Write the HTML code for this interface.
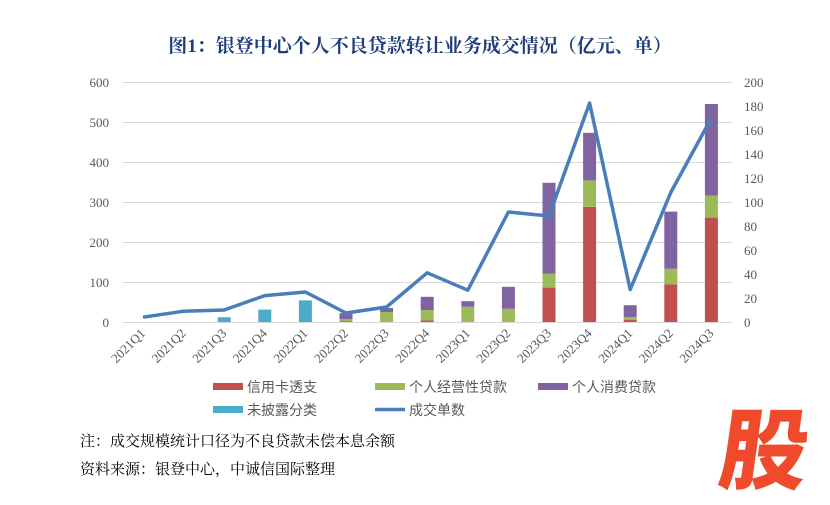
<!DOCTYPE html>
<html><head><meta charset="utf-8"><style>
body{margin:0;background:#fff;}
svg text{font-family:"Liberation Serif","Noto Serif CJK SC",serif;}
</style></head><body>
<svg width="830" height="500" xmlns="http://www.w3.org/2000/svg">
<rect width="830" height="500" fill="#fff"/>
<text x="420" y="52" text-anchor="middle" font-size="19" font-weight="bold" fill="#1f3e79" style="font-family:'Liberation Serif','Noto Serif CJK SC',serif">图1：银登中心个人不良贷款转让业务成交情况（亿元、单）</text>
<g stroke="#d9d9d9" stroke-width="1">
<line x1="123" x2="732" y1="82.5" y2="82.5"/><line x1="123" x2="732" y1="122.5" y2="122.5"/>
<line x1="123" x2="732" y1="162.5" y2="162.5"/><line x1="123" x2="732" y1="202.5" y2="202.5"/>
<line x1="123" x2="732" y1="242.5" y2="242.5"/><line x1="123" x2="732" y1="282.5" y2="282.5"/>
<line x1="123" x2="732" y1="322.5" y2="322.5"/>
</g>
<g font-size="13" fill="#595959" text-anchor="end">
<text x="109" y="87">600</text><text x="109" y="127">500</text><text x="109" y="167">400</text>
<text x="109" y="207">300</text><text x="109" y="247">200</text><text x="109" y="287">100</text><text x="109" y="327">0</text>
</g>
<g font-size="13" fill="#595959" text-anchor="start">
<text x="744" y="87">200</text><text x="744" y="111">180</text><text x="744" y="135">160</text>
<text x="744" y="159">140</text><text x="744" y="183">120</text><text x="744" y="207">100</text>
<text x="744" y="231">80</text><text x="744" y="255">60</text><text x="744" y="279">40</text>
<text x="744" y="303">20</text><text x="744" y="327">0</text>
</g>
<g>
<rect x="217.7" y="317.2" width="13" height="4.8" fill="#4bacc6"/>
<rect x="258.3" y="309.6" width="13" height="12.4" fill="#4bacc6"/>
<rect x="298.9" y="300.4" width="13" height="21.6" fill="#4bacc6"/>

<rect x="339.5" y="321.2" width="13" height="0.8" fill="#c0504d"/>
<rect x="339.5" y="319.2" width="13" height="2" fill="#9bbb59"/>
<rect x="339.5" y="313.2" width="13" height="6" fill="#8064a2"/>

<rect x="380.1" y="312" width="13" height="10" fill="#9bbb59"/>
<rect x="380.1" y="308" width="13" height="4" fill="#8064a2"/>

<rect x="420.7" y="320.4" width="13" height="1.6" fill="#c0504d"/>
<rect x="420.7" y="310" width="13" height="10.4" fill="#9bbb59"/>
<rect x="420.7" y="296.8" width="13" height="13.2" fill="#8064a2"/>

<rect x="461.3" y="306.8" width="13" height="15.2" fill="#9bbb59"/>
<rect x="461.3" y="301.2" width="13" height="5.6" fill="#8064a2"/>

<rect x="501.9" y="308.8" width="13" height="13.2" fill="#9bbb59"/>
<rect x="501.9" y="286.8" width="13" height="22" fill="#8064a2"/>

<rect x="542.5" y="287.6" width="13" height="34.4" fill="#c0504d"/>
<rect x="542.5" y="273.6" width="13" height="14" fill="#9bbb59"/>
<rect x="542.5" y="182.8" width="13" height="90.8" fill="#8064a2"/>

<rect x="583.1" y="206.8" width="13" height="115.2" fill="#c0504d"/>
<rect x="583.1" y="180.4" width="13" height="26.4" fill="#9bbb59"/>
<rect x="583.1" y="132.8" width="13" height="47.6" fill="#8064a2"/>

<rect x="623.7" y="320" width="13" height="2" fill="#c0504d"/>
<rect x="623.7" y="317.2" width="13" height="2.8" fill="#9bbb59"/>
<rect x="623.7" y="305.2" width="13" height="12" fill="#8064a2"/>

<rect x="664.3" y="284.4" width="13" height="37.6" fill="#c0504d"/>
<rect x="664.3" y="268.8" width="13" height="15.6" fill="#9bbb59"/>
<rect x="664.3" y="211.6" width="13" height="57.2" fill="#8064a2"/>

<rect x="704.9" y="217.6" width="13" height="104.4" fill="#c0504d"/>
<rect x="704.9" y="195.6" width="13" height="22" fill="#9bbb59"/>
<rect x="704.9" y="104" width="13" height="91.6" fill="#8064a2"/>
</g>
<polyline points="143,317.2 183.6,311.2 224.2,310 264.8,295.6 305.4,292 346,313 386.6,307 427.2,272.8 467.8,290.2 508.4,212 549,216 589.6,103 630.2,289.6 670.8,192.4 711.4,118" fill="none" stroke="#4a7ebb" stroke-width="3.5" stroke-linejoin="round"/>
<g font-size="13" fill="#595959" text-anchor="end">
<text x="146" y="334" transform="rotate(-45 146 334)">2021Q1</text>
<text x="186.6" y="334" transform="rotate(-45 186.6 334)">2021Q2</text>
<text x="227.2" y="334" transform="rotate(-45 227.2 334)">2021Q3</text>
<text x="267.8" y="334" transform="rotate(-45 267.8 334)">2021Q4</text>
<text x="308.4" y="334" transform="rotate(-45 308.4 334)">2022Q1</text>
<text x="349" y="334" transform="rotate(-45 349 334)">2022Q2</text>
<text x="389.6" y="334" transform="rotate(-45 389.6 334)">2022Q3</text>
<text x="430.2" y="334" transform="rotate(-45 430.2 334)">2022Q4</text>
<text x="470.8" y="334" transform="rotate(-45 470.8 334)">2023Q1</text>
<text x="511.4" y="334" transform="rotate(-45 511.4 334)">2023Q2</text>
<text x="552" y="334" transform="rotate(-45 552 334)">2023Q3</text>
<text x="592.6" y="334" transform="rotate(-45 592.6 334)">2023Q4</text>
<text x="633.2" y="334" transform="rotate(-45 633.2 334)">2024Q1</text>
<text x="673.8" y="334" transform="rotate(-45 673.8 334)">2024Q2</text>
<text x="714.4" y="334" transform="rotate(-45 714.4 334)">2024Q3</text>
</g>
<g font-size="14" fill="#595959">
<rect x="213" y="383" width="30" height="7" fill="#c0504d"/><text x="247" y="392" style="font-family:'Noto Sans CJK SC',sans-serif">信用卡透支</text>
<rect x="375" y="383" width="30" height="7" fill="#9bbb59"/><text x="409" y="392" style="font-family:'Noto Sans CJK SC',sans-serif">个人经营性贷款</text>
<rect x="538" y="383" width="30" height="7" fill="#8064a2"/><text x="572" y="392" style="font-family:'Noto Sans CJK SC',sans-serif">个人消费贷款</text>
<rect x="213" y="406" width="30" height="7" fill="#4bacc6"/><text x="247" y="415" style="font-family:'Noto Sans CJK SC',sans-serif">未披露分类</text>
<line x1="375" x2="405" y1="409.5" y2="409.5" stroke="#4a7ebb" stroke-width="3.5"/><text x="409" y="415" style="font-family:'Noto Sans CJK SC',sans-serif">成交单数</text>
</g>
<g font-size="15" fill="#000">
<text x="80" y="446" style="font-family:'Noto Serif CJK SC',serif">注：成交规模统计口径为不良贷款未偿本息余额</text>
<text x="80" y="474" style="font-family:'Noto Serif CJK SC',serif">资料来源：银登中心，中诚信国际整理</text>
</g>
<text x="766" y="482" text-anchor="middle" font-size="88" font-weight="900" fill="#ee4a2b" transform="skewX(-8) translate(62 0)" style="font-family:'Noto Sans CJK SC',sans-serif">股</text>
</svg>
</body></html>
